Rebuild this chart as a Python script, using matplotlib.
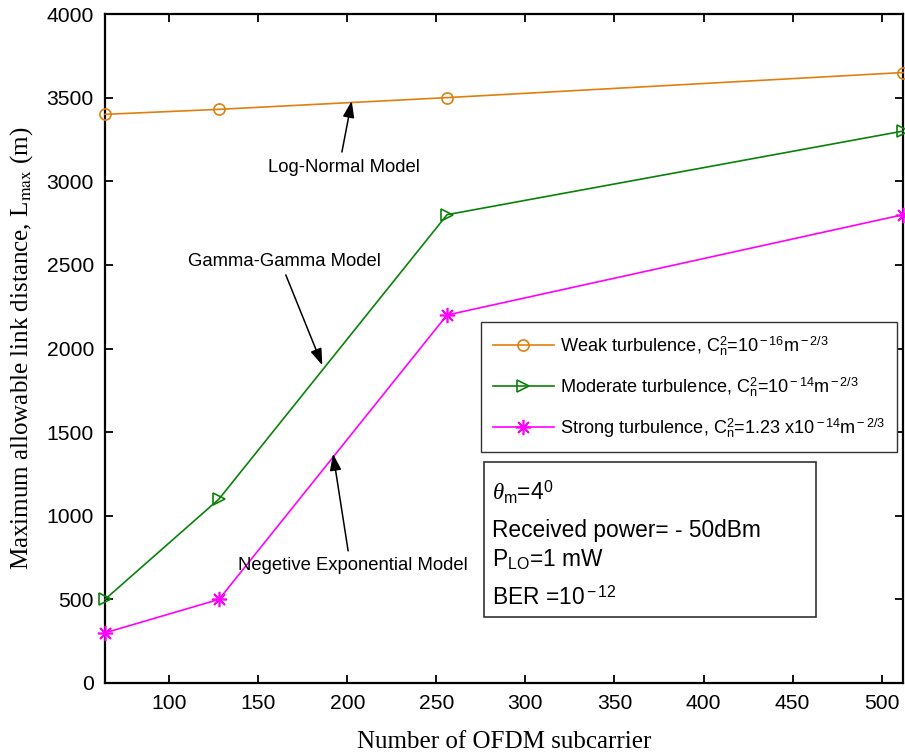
import matplotlib
matplotlib.use("Agg")
import matplotlib.pyplot as plt
from matplotlib.patches import Rectangle

plt.rcParams["font.family"] = ["Liberation Sans", "DejaVu Sans"]
plt.rcParams["mathtext.fontset"] = "custom"
plt.rcParams["mathtext.rm"] = "Liberation Sans"
plt.rcParams["mathtext.it"] = "Liberation Serif:italic"
plt.rcParams["mathtext.bf"] = "Liberation Sans:bold"

# Data
subcarriers = [64, 128, 256, 512]
weak = [3400, 3430, 3500, 3650]
moderate = [500, 1100, 2800, 3300]
strong = [300, 500, 2200, 2800]

labels = [
    r"Weak turbulence, C$_{\rm n}^{\rm 2}$=10$^{\rm -16}$m$^{\rm -2/3}$",
    r"Moderate turbulence, C$_{\rm n}^{\rm 2}$=10$^{\rm -14}$m$^{\rm -2/3}$",
    r"Strong turbulence, C$_{\rm n}^{\rm 2}$=1.23 x10$^{\rm -14}$m$^{\rm -2/3}$",
]
x_ticks = [100, 150, 200, 250, 300, 350, 400, 450, 500]
y_ticks = [0, 500, 1000, 1500, 2000, 2500, 3000, 3500, 4000]

W, H = 905, 752
fig = plt.figure(figsize=(W / 100, H / 100), dpi=100)
ax = fig.add_axes([105 / W, 1 - 683 / H, (903 - 105) / W, (683 - 14) / H])


def fpos(px, py):
    return px / W, 1 - py / H


lw = 1.2
ax.plot(subcarriers, weak, color="#E07F0E", lw=lw, marker="o", ms=8,
        mfc="none", mew=1.2, clip_on=False, label=labels[0], zorder=3)
ax.plot(subcarriers, moderate, color="#0A820A", lw=lw, marker=">", ms=9,
        mfc="none", mew=1.2, clip_on=False, label=labels[1], zorder=3)
ax.plot(subcarriers, strong, color="#FF00FF", lw=lw, marker=(8, 2, 0), ms=11,
        mew=1.2, clip_on=False, label=labels[2], zorder=3)

ax.set_xlim(64, 512)
ax.set_ylim(0, 4000)
ax.set_xticks(x_ticks)
ax.set_yticks(y_ticks)
ax.tick_params(direction="in", length=6, width=1.3, labelsize=15.2,
               top=True, right=True, pad=8)
for s in ax.spines.values():
    s.set_linewidth(1.6)

ax.set_xlabel("Number of OFDM subcarrier", family="Liberation Serif",
              fontsize=18, labelpad=13)
ylab = ax.set_ylabel(r"Maximum allowable link distance, L$_{\rm max}$ (m)",
                     family="Liberation Serif", fontsize=18, labelpad=8)
ylab.set_math_fontfamily("stix")

leg = ax.legend(loc="upper left", bbox_to_anchor=fpos(481, 322),
                bbox_transform=fig.transFigure, fontsize=13.1,
                handlelength=3.35, handletextpad=0.35, labelspacing=0.95,
                borderpad=0.65, borderaxespad=0, fancybox=False,
                framealpha=1, edgecolor="#333333")
leg.get_frame().set_linewidth(1.0)

# Parameter box
bx0, by0 = fpos(484, 617)
bx1, by1 = fpos(816, 462)
fig.patches.append(Rectangle((bx0, by0), bx1 - bx0, by1 - by0,
                             transform=fig.transFigure, fill=True,
                             facecolor="white", edgecolor="#333333",
                             lw=1.2, zorder=5))
box_lines = [
    (492, r"$\theta_{\rm m}$=4$^{\rm 0}$"),
    (530, "Received power= - 50dBm"),
    (560, r"P$_{\rm LO}$=1 mW"),
    (598, r"BER =10$^{\rm -12}$"),
]
for py, txt in box_lines:
    fig.text(*fpos(492, py), txt, fontsize=16.4, va="center", ha="left",
             zorder=6)

# Model annotations
arrow = dict(arrowstyle="-|>,head_length=1.0,head_width=0.35", color="black",
             lw=1.1, shrinkA=0, shrinkB=0)
ax.text(198, 3080, "Log-Normal Model", ha="center", va="center", fontsize=13.3)
ax.annotate("", xy=(202.5, 3480), xytext=(197, 3175), arrowprops=arrow)
ax.text(165, 2520, "Gamma-Gamma Model", ha="center", va="center",
        fontsize=13.3)
ax.annotate("", xy=(186, 1900), xytext=(165.5, 2440), arrowprops=arrow)
ax.text(203, 700, "Negetive Exponential Model", ha="center", va="center",
        fontsize=13.3)
ax.annotate("", xy=(192, 1370), xytext=(200.5, 790), arrowprops=arrow)

fig.savefig("out.png", dpi=100)
